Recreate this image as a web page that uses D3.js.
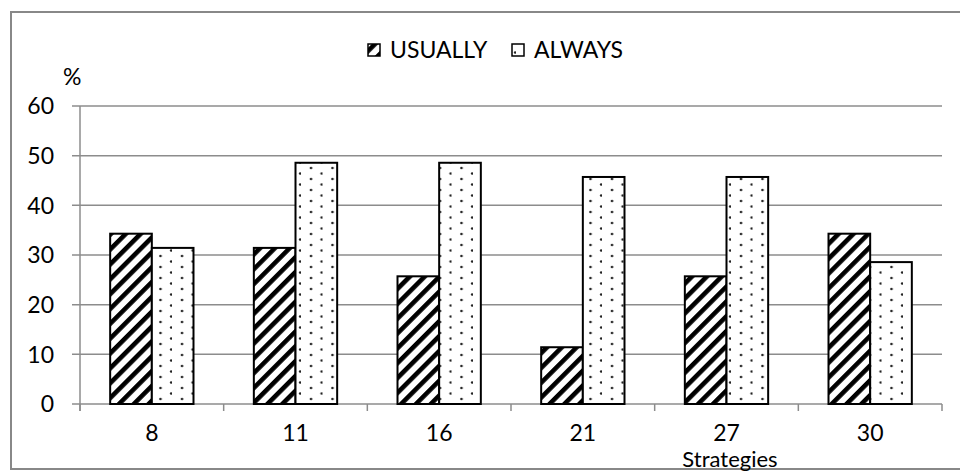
<!DOCTYPE html>
<html><head><meta charset="utf-8">
<script src="https://cdn.jsdelivr.net/npm/d3@7"></script>
<style>body{margin:0;background:#fff}svg{display:block}text{font-family:Lato,"Open Sans",sans-serif;fill:#000}</style>
</head><body><svg id="c" width="960" height="474"></svg>
<script>
const categories = ["8","11","16","21","27","30"];
const usually = [34.29,31.43,25.71,11.43,25.71,34.29];
const always = [31.43,48.57,48.57,45.71,45.71,28.57];
const seriesNames = ["USUALLY","ALWAYS"];
const yTicks = [0,10,20,30,40,50,60];

const svg = d3.select("#c");
const defs = svg.append("defs");
const ps = defs.append("pattern").attr("id","stripe").attr("patternUnits","userSpaceOnUse")
  .attr("width",10.5).attr("height",10.5).attr("patternTransform","rotate(45)");
ps.append("rect").attr("width",10.5).attr("height",10.5).attr("fill","#fff");
ps.append("rect").attr("x",0).attr("width",4.6).attr("height",10.5).attr("fill","#000");
const pd = defs.append("pattern").attr("id","dots").attr("patternUnits","userSpaceOnUse")
  .attr("width",21.5).attr("height",11).attr("x",0).attr("y",0);
pd.append("rect").attr("width",21.5).attr("height",11).attr("fill","#fff");
pd.append("circle").attr("cx",10).attr("cy",3).attr("r",1.3).attr("fill","#222");
pd.append("circle").attr("cx",20.7).attr("cy",8.5).attr("r",1.3).attr("fill","#222");

// outer frame
svg.append("rect").attr("x",11).attr("y",12).attr("width",960).attr("height",457)
  .attr("fill","none").attr("stroke","#888").attr("stroke-width",2);

const L=80,R=942,T=106,B=404;
const x = d3.scaleBand().domain(categories).range([L,R]).paddingInner(0.42).paddingOuter(0.21);
const x0 = d3.scaleBand().domain(categories).range([L,R]);
const y = d3.scaleLinear().domain([0,60]).range([B,T]);

// grid
svg.append("g").selectAll("line").data(yTicks).join("line")
  .attr("x1",L-8).attr("x2",R).attr("y1",d=>y(d)).attr("y2",d=>y(d))
  .attr("stroke","#8c8c8c").attr("stroke-width",1.5);
svg.append("line").attr("x1",L).attr("x2",L).attr("y1",T).attr("y2",B+7).attr("stroke","#8c8c8c").attr("stroke-width",1.5);
const bounds = categories.map(c=>x0(c)).concat([R]);
svg.append("g").selectAll("line").data(bounds).join("line")
  .attr("x1",d=>d).attr("x2",d=>d).attr("y1",B).attr("y2",B+7).attr("stroke","#8c8c8c").attr("stroke-width",1.5);

// y labels
svg.append("g").selectAll("text").data(yTicks).join("text")
  .attr("x",54).attr("y",d=>y(d)).attr("dy","0.36em").attr("text-anchor","end")
  .attr("font-size",23).text(d=>d);
svg.append("text").attr("x",63).attr("y",85).attr("font-size",23).text("%");

// bars
const bw = x.bandwidth()/2;
const data = categories.map((c,i)=>({c,u:usually[i],a:always[i]}));
svg.append("g").selectAll("rect").data(data).join("rect")
  .attr("x",d=>x(d.c)).attr("width",bw).attr("y",d=>y(d.u)).attr("height",d=>B-y(d.u))
  .attr("fill","url(#stripe)").attr("stroke","#000").attr("stroke-width",2);
svg.append("g").selectAll("rect").data(data).join("rect")
  .attr("x",d=>x(d.c)+bw).attr("width",bw).attr("y",d=>y(d.a)).attr("height",d=>B-y(d.a))
  .attr("fill","url(#dots)").attr("stroke","#000").attr("stroke-width",2);

// x labels
svg.append("g").selectAll("text").data(categories).join("text")
  .attr("x",d=>x0(d)+x0.bandwidth()/2).attr("y",441).attr("text-anchor","middle")
  .attr("font-size",23).text(d=>d);
svg.append("text").attr("x",730).attr("y",467).attr("text-anchor","middle").attr("font-size",22).text("Strategies");

// legend
const lg = svg.append("g");
const lx = [368,512];
const fills = ["url(#stripe)","url(#dots)"];
seriesNames.forEach((n,i)=>{
  lg.append("rect").attr("x",lx[i]).attr("y",44).attr("width",12).attr("height",12)
    .attr("fill",fills[i]).attr("stroke","#000").attr("stroke-width",1.5);
  lg.append("text").attr("x",lx[i]+22).attr("y",58).attr("font-size",23).text(n);
});
</script></body></html>
